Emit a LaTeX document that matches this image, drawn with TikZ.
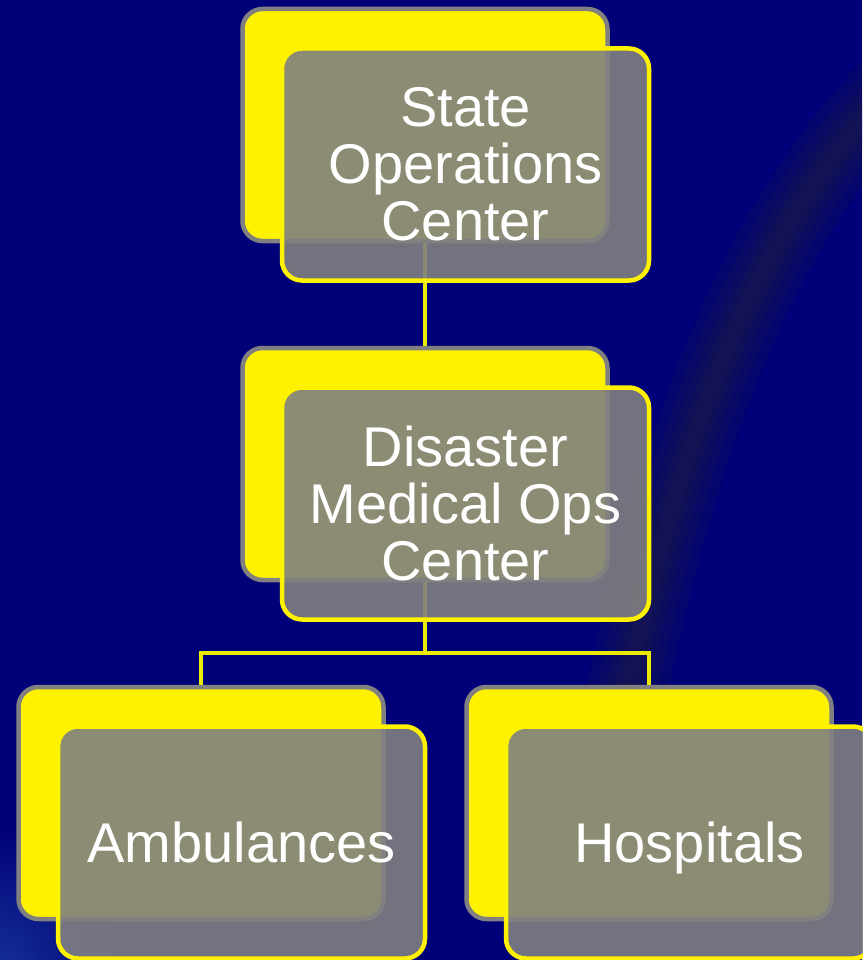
\documentclass[tikz,border=0pt]{standalone}
\usepackage{fontspec}
\setmainfont{Liberation Sans}
\definecolor{navy}{RGB}{0,0,120}
\definecolor{boxgray}{RGB}{128,128,128}
\definecolor{linkyellow}{RGB}{235,235,0}
\definecolor{streak}{RGB}{32,32,66}
\definecolor{glow}{RGB}{20,45,150}
\begin{document}
\begin{tikzpicture}[x=1pt,y=-1pt,
  backbox/.style={draw=boxgray, line width=4.5pt, fill=yellow, rounded corners=20pt,
    minimum width=365pt, minimum height=232pt, inner sep=0pt},
  frontbox/.style={draw=yellow, line width=4.5pt, fill=boxgray, fill opacity=0.9, text opacity=1,
    rounded corners=20pt, minimum width=367pt, minimum height=232pt, inner sep=0pt,
    text=white, align=center, font=\fontsize{56}{57}\selectfont},
  link/.style={draw=linkyellow, line width=4.5pt},
  haze/.style={draw=streak, draw opacity=0.18, line cap=round}]
\fill[navy] (0,0) rectangle (862,960);
\useasboundingbox (0,0) rectangle (862,960);
\begin{scope}
  \clip (0,0) rectangle (862,960);
  \shade[inner color=glow, outer color=navy] (0,960) circle[radius=130];
  \foreach \w in {80,60,42,28,16}{
    \draw[haze, line width=\w pt] (885,95) .. controls (760,230) and (680,420) .. (618,735);
  }
\end{scope}
% back boxes
\node[backbox] (topb) at (425,125) {};
\node[backbox] (midb) at (425,464) {};
\node[backbox] (ambb) at (201,803) {};
\node[backbox] (hosb) at (649,803) {};
% connectors
\coordinate (bus) at (425,653);
\draw[link] (topb.south) -- (midb.north);
\draw[link] (midb.south) -- (bus);
\draw[link] (ambb.north) |- (bus) -| (hosb.north);
% front boxes
\node[frontbox] (top) at (465.5,164.5) {State\\Operations\\Center};
\node[frontbox] (mid) at (465.5,503.5) {Disaster\\Medical Ops\\Center};
\node[frontbox, text depth=0pt] (amb) at (241.5,842.5) {Ambulances};
\node[frontbox, text depth=0pt] (hos) at (689.5,842.5) {Hospitals};
\end{tikzpicture}
\end{document}
